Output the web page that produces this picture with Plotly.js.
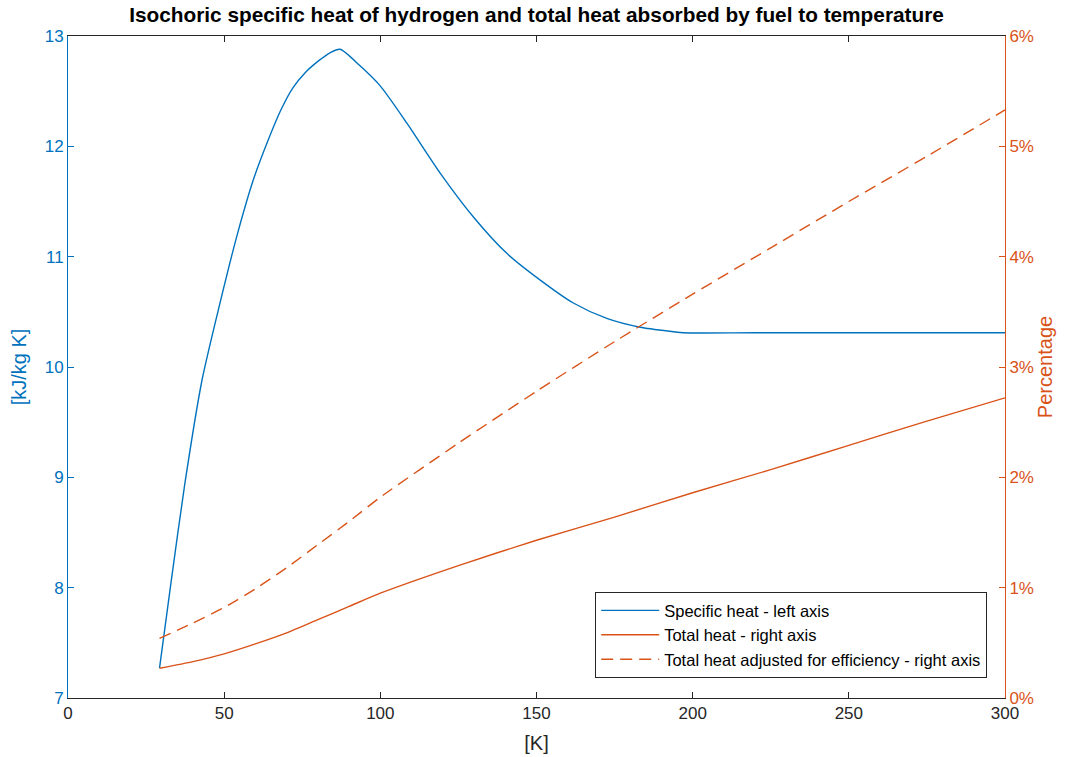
<!DOCTYPE html>
<html>
<head>
<meta charset="utf-8">
<script src="https://cdn.plot.ly/plotly-3.0.1.min.js"></script>
<style>html,body{margin:0;padding:0;background:#fff;}</style>
</head>
<body>
<div id="chart" style="width:1078px;height:757px;"></div>
<script>
// Specific heat (left axis, kJ/kg K)
var cvTemperature = [29.3, 33, 37.4, 42.9, 48.5, 54, 59.5, 64, 68, 72, 76, 80, 84, 87.1, 93.5, 99.9, 108.5, 119.1, 129.8, 140.5, 151.1, 161.8, 172.5, 183.2, 193.8, 197, 220, 250, 280, 300];
var specificHeat = [7.27, 8.05, 8.94, 9.88, 10.56, 11.18, 11.71, 12.05, 12.32, 12.53, 12.67, 12.77, 12.85, 12.88, 12.73, 12.55, 12.21, 11.76, 11.36, 11.03, 10.79, 10.58, 10.44, 10.36, 10.32, 10.31, 10.31, 10.31, 10.31, 10.31];

// Total heat (right axis, %)
var heatTemperature = [29.3, 40, 50, 60, 70, 80, 90, 100, 125, 150, 175, 200, 225, 250, 275, 300];
var totalHeat = [0.27, 0.33, 0.40, 0.49, 0.59, 0.71, 0.83, 0.95, 1.20, 1.43, 1.64, 1.86, 2.07, 2.29, 2.51, 2.72];
var adjustedHeat = [0.54, 0.68, 0.82, 0.99, 1.18, 1.39, 1.60, 1.82, 2.31, 2.78, 3.23, 3.66, 4.08, 4.50, 4.91, 5.33];

var seriesNames = ['Specific heat - left axis', 'Total heat - right axis', 'Total heat adjusted for efficiency - right axis'];
var xTicks = [0, 50, 100, 150, 200, 250, 300];
var leftTicks = [7, 8, 9, 10, 11, 12, 13];
var rightTicks = [0, 1, 2, 3, 4, 5, 6];

var blue = '#0072BD';
var orange = '#D95319';
var fontFam = 'Liberation Sans, Arial, Helvetica, sans-serif';

var traces = [
  {x: cvTemperature, y: specificHeat, name: seriesNames[0], type: 'scatter', mode: 'lines',
   line: {color: blue, width: 1.4, shape: 'spline', smoothing: 0.7}, yaxis: 'y'},
  {x: heatTemperature, y: totalHeat, name: seriesNames[1], type: 'scatter', mode: 'lines',
   line: {color: orange, width: 1.4, shape: 'spline', smoothing: 0.6}, yaxis: 'y2'},
  {x: heatTemperature, y: adjustedHeat, name: seriesNames[2], type: 'scatter', mode: 'lines',
   line: {color: orange, width: 1.4, dash: '12px,7px', shape: 'spline', smoothing: 0.6}, yaxis: 'y2'}
];

var layout = {
  width: 1078, height: 757,
  margin: {l: 68, r: 73, t: 36, b: 59, pad: 0},
  paper_bgcolor: '#ffffff', plot_bgcolor: '#ffffff',
  font: {family: fontFam, size: 17, color: '#262626'},
  showlegend: true,
  title: {text: '<b>Isochoric specific heat of hydrogen and total heat absorbed by fuel to temperature</b>',
          font: {family: fontFam, size: 20.8, color: '#000000'},
          xref: 'paper', x: 0.5, xanchor: 'center', yref: 'container', y: 0.981, yanchor: 'middle'},
  xaxis: {range: [0, 300], tickvals: xTicks, ticktext: xTicks.map(String), ticks: 'inside', ticklen: 6,
          tickcolor: '#262626', showline: true, linecolor: '#262626', linewidth: 1, mirror: 'ticks',
          showgrid: false, zeroline: false, tickfont: {size: 17, color: '#262626'},
          title: {text: '[K]', font: {size: 20, color: '#262626'}, standoff: 13}},
  yaxis: {range: [7, 13], tickvals: leftTicks, ticktext: leftTicks.map(String), ticks: 'inside', ticklen: 6,
          tickcolor: blue, showline: true, linecolor: blue, linewidth: 1, showgrid: false, zeroline: false,
          tickfont: {size: 17, color: blue},
          title: {text: '[kJ/kg K]', font: {size: 20, color: blue}, standoff: 12}},
  yaxis2: {range: [0, 6], overlaying: 'y', side: 'right', tickvals: rightTicks,
           ticktext: rightTicks.map(function(v){return v + '%';}), ticks: 'inside', ticklen: 6,
           tickcolor: orange, showline: true, linecolor: orange, linewidth: 1, showgrid: false, zeroline: false,
           tickfont: {size: 17, color: orange},
           title: {text: 'Percentage', font: {size: 20, color: orange}, standoff: 1}},
  legend: {x: 0.981, xanchor: 'right', y: 0.03, yanchor: 'bottom', bgcolor: '#ffffff',
           bordercolor: '#262626', borderwidth: 1, font: {size: 16.5, color: '#000000'},
           tracegroupgap: 0, itemwidth: 58}
};

Plotly.newPlot('chart', traces, layout, {displayModeBar: false, staticPlot: true});
</script>
</body>
</html>
